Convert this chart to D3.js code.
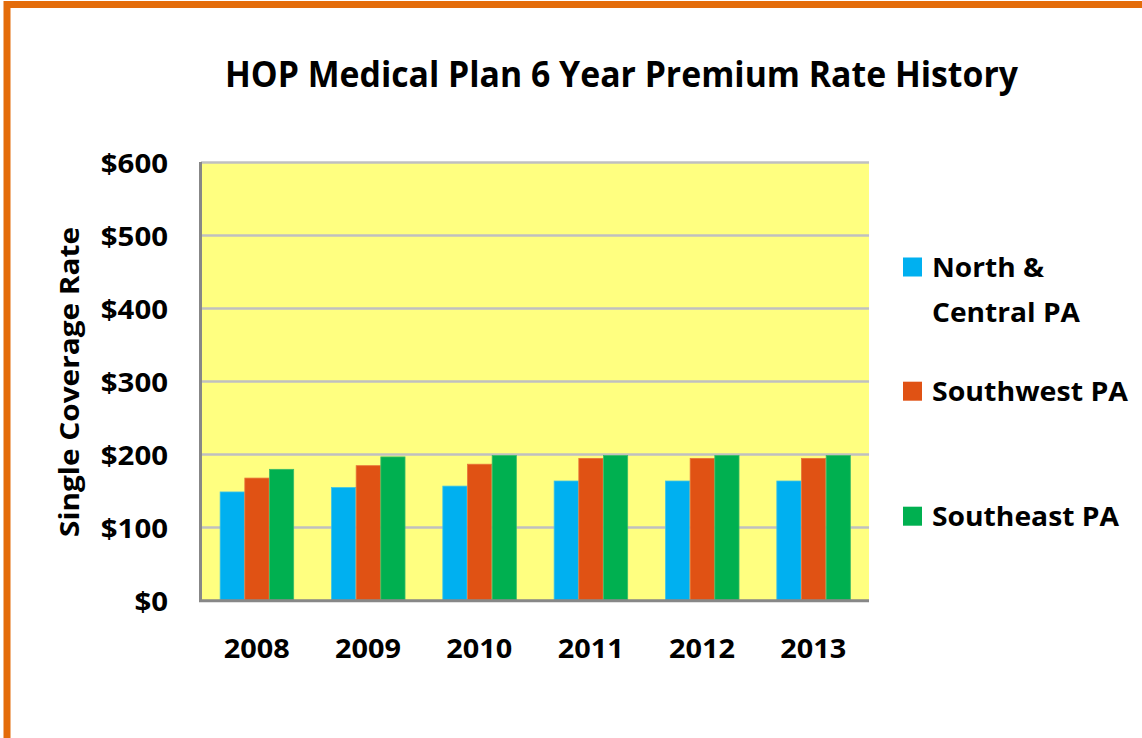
<!DOCTYPE html>
<html>
<head>
<meta charset="utf-8">
<script src="https://cdn.jsdelivr.net/npm/d3@7"></script>
<style>
  html, body { margin: 0; padding: 0; background: #ffffff; }
  svg { display: block; }
  text { font-family: "Open Sans", Lato, sans-serif; font-weight: 700; fill: #000; }
</style>
</head>
<body>
<svg id="chart" width="1142" height="738"></svg>
<script>
const title = "HOP Medical Plan 6 Year Premium Rate History";
const yAxisTitle = "Single Coverage Rate";
const years = ["2008", "2009", "2010", "2011", "2012", "2013"];
const seriesNames = ["North & Central PA", "Southwest PA", "Southeast PA"];
const legendLines = [["North &", "Central PA"], ["Southwest PA"], ["Southeast PA"]];
const northCentral = [148, 154, 156, 163, 163, 163];
const southwest = [167, 184, 186, 194, 194, 194];
const southeast = [179, 196, 198, 198, 198, 198];
const yTicks = [0, 100, 200, 300, 400, 500, 600];
const colors = ["#00B0F0", "#E05214", "#00B050"];
const edgeColors = ["#3FC4E6", "#E8743A", "#3CBC68"];

const seriesValues = [northCentral, southwest, southeast];
const FONT = "'Open Sans', Lato, sans-serif";

const svg = d3.select("#chart");

// orange frame
svg.append("rect")
  .attr("x", 7).attr("y", 4.5)
  .attr("width", 1300).attr("height", 900)
  .attr("fill", "none")
  .attr("stroke", "#E46C0A")
  .attr("stroke-width", 7);

const plot = { left: 201, right: 869, top: 162, bottom: 600 };

const x = d3.scaleBand()
  .domain(years)
  .range([plot.left, plot.right])
  .paddingInner(0.335)
  .paddingOuter(0.1675);

const xSub = d3.scaleBand()
  .domain(d3.range(seriesNames.length))
  .range([0, x.bandwidth()]);

const y = d3.scaleLinear()
  .domain([0, 600])
  .range([plot.bottom, plot.top]);

// plot area background
svg.append("rect")
  .attr("x", plot.left).attr("y", plot.top)
  .attr("width", plot.right - plot.left)
  .attr("height", plot.bottom - plot.top)
  .attr("fill", "#FFFF80");

// gridlines
const grid = svg.append("g")
  .attr("transform", `translate(${plot.left},0)`)
  .call(d3.axisLeft(y).tickValues(yTicks.filter(d => d > 0)).tickSize(-(plot.right - plot.left)).tickFormat(""));
grid.select(".domain").remove();
grid.selectAll(".tick line").attr("stroke", "#C0C0C0").attr("stroke-width", 2.5);

// bars
const groups = svg.append("g").selectAll("g")
  .data(years)
  .join("g")
  .attr("transform", d => `translate(${x(d)},0)`);

groups.selectAll("rect")
  .data((d, i) => seriesValues.map((vals, s) => ({ s, v: vals[i] })))
  .join("rect")
  .attr("x", d => xSub(d.s) + 0.5)
  .attr("width", xSub.bandwidth() - 0.5)
  .attr("y", d => y(d.v))
  .attr("height", d => y(0) - y(d.v))
  .attr("fill", d => colors[d.s])
  .attr("stroke", d => edgeColors[d.s])
  .attr("stroke-width", 0.8);

// axes lines
svg.append("line")
  .attr("x1", plot.left - 0.5).attr("x2", plot.left - 0.5)
  .attr("y1", plot.top).attr("y2", plot.bottom + 2)
  .attr("stroke", "#878787").attr("stroke-width", 3);
svg.append("line")
  .attr("x1", plot.left - 2).attr("x2", plot.right)
  .attr("y1", plot.bottom + 0.8).attr("y2", plot.bottom + 0.8)
  .attr("stroke", "#878787").attr("stroke-width", 3);

// y axis labels
const yAxis = svg.append("g")
  .attr("transform", `translate(${plot.left},0)`)
  .call(d3.axisLeft(y).tickValues(yTicks).tickSize(0).tickPadding(33).tickFormat(d => "$" + d));
yAxis.select(".domain").remove();
yAxis.selectAll("text")
  .attr("dy", null)
  .attr("y", 10)
  .style("font-family", FONT)
  .style("font-weight", 700)
  .style("font-size", "27px")
  .attr("textLength", d => ("$" + d).length * 16.8)
  .attr("lengthAdjust", "spacingAndGlyphs")
  .attr("fill", "#000");

// x axis labels
const xAxis = svg.append("g")
  .attr("transform", `translate(0,${plot.bottom})`)
  .call(d3.axisBottom(x).tickSize(0).tickPadding(0));
xAxis.select(".domain").remove();
xAxis.selectAll("text")
  .attr("dy", null)
  .attr("y", 58)
  .style("font-family", FONT)
  .style("font-weight", 700)
  .style("font-size", "27px")
  .attr("textLength", 66)
  .attr("lengthAdjust", "spacingAndGlyphs")
  .attr("fill", "#000");

// title
svg.append("text")
  .attr("x", 621.5).attr("y", 87)
  .attr("text-anchor", "middle")
  .attr("textLength", 793)
  .attr("lengthAdjust", "spacingAndGlyphs")
  .style("font-size", "35px")
  .text(title);

// y axis title
svg.append("text")
  .attr("transform", "translate(79,382) rotate(-90)")
  .attr("text-anchor", "middle")
  .attr("textLength", 310)
  .attr("lengthAdjust", "spacingAndGlyphs")
  .style("font-size", "26px")
  .text(yAxisTitle);

// legend
const legendTops = [257.5, 381.7, 506.7];
const legendWidths = [[112, 148], [196], [187]];
const legend = svg.append("g").selectAll("g")
  .data(seriesNames)
  .join("g")
  .attr("transform", (d, i) => `translate(903,${legendTops[i]})`);
legend.append("rect")
  .attr("width", 19).attr("height", 19)
  .attr("fill", (d, i) => colors[i]);
legend.each(function (d, i) {
  const g = d3.select(this);
  legendLines[i].forEach((line, j) => {
    g.append("text")
      .attr("x", 29)
      .attr("y", 19.5 + j * 45)
      .attr("textLength", legendWidths[i][j])
      .attr("lengthAdjust", "spacingAndGlyphs")
      .style("font-size", "27px")
      .text(line);
  });
});
</script>
</body>
</html>
